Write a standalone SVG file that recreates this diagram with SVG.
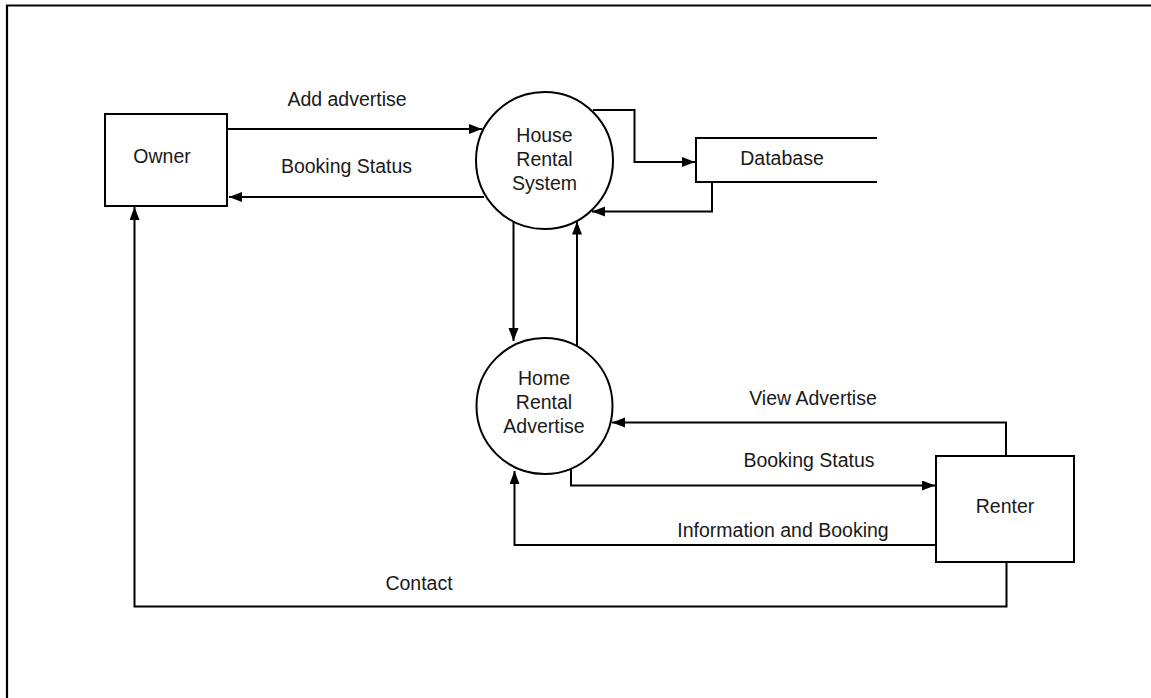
<svg xmlns="http://www.w3.org/2000/svg" width="1151" height="698" viewBox="0 0 1151 698">
  <style>
    .shape { fill: #ffffff; stroke: #000000; stroke-width: 2; }
    .conn { fill: none; stroke: #000000; stroke-width: 2; marker-end: url(#arrow); }
    .line { fill: none; stroke: #000000; stroke-width: 2; }
    .lbl { font-family: "Liberation Sans", Arial, sans-serif; font-size: 19.5px; fill: #1a1a1a; text-anchor: middle; }
  </style>
  <defs>
    <marker id="arrow" markerUnits="userSpaceOnUse" markerWidth="14" markerHeight="11" refX="13" refY="5" orient="auto">
      <path d="M0,0 L13,5 L0,10 z" fill="#000000"/>
    </marker>
  </defs>
  <rect width="1151" height="698" fill="#ffffff"/>
  <path d="M7,700 V5.5 H1152" fill="none" stroke="#000000" stroke-width="2.2"/>

  <g id="connectors">
    <path class="conn" d="M227,129 H482"/>
    <path class="conn" d="M484,197 H229"/>
    <path class="conn" d="M593,110 H634.5 V162 H695"/>
    <path class="conn" d="M712,183 V211.5 H592"/>
    <path class="conn" d="M513.5,222 V341"/>
    <path class="conn" d="M577,346 V221.5"/>
    <path class="conn" d="M1006,456 V422.5 H612"/>
    <path class="conn" d="M571,468 V485.5 H935"/>
    <path class="conn" d="M936,545 H514.5 V471"/>
    <path class="conn" d="M1006.5,562 V606.5 H134.5 V207"/>
    <text class="lbl" x="347" y="106">Add advertise</text>
    <text class="lbl" x="346.5" y="173">Booking Status</text>
    <text class="lbl" x="813" y="405">View Advertise</text>
    <text class="lbl" x="809" y="467">Booking Status</text>
    <text class="lbl" x="783" y="537">Information and Booking</text>
    <text class="lbl" x="419" y="590">Contact</text>
  </g>

  <g id="owner">
    <rect class="shape" x="105" y="114" width="122" height="92"/>
    <text class="lbl" x="162" y="163">Owner</text>
  </g>

  <g id="house-rental-system">
    <circle class="shape" cx="544.5" cy="160.5" r="68.5"/>
    <text class="lbl" x="544.5" y="142">House</text>
    <text class="lbl" x="544.5" y="166">Rental</text>
    <text class="lbl" x="544.5" y="190">System</text>
  </g>

  <g id="database">
    <path class="line" d="M877,138 H696 V182 H877"/>
    <text class="lbl" x="782" y="165">Database</text>
  </g>

  <g id="home-rental-advertise">
    <circle class="shape" cx="544.5" cy="406" r="68"/>
    <text class="lbl" x="544" y="385">Home</text>
    <text class="lbl" x="544" y="409">Rental</text>
    <text class="lbl" x="544" y="433">Advertise</text>
  </g>

  <g id="renter">
    <rect class="shape" x="936" y="456" width="138" height="106"/>
    <text class="lbl" x="1005" y="513">Renter</text>
  </g>
</svg>
